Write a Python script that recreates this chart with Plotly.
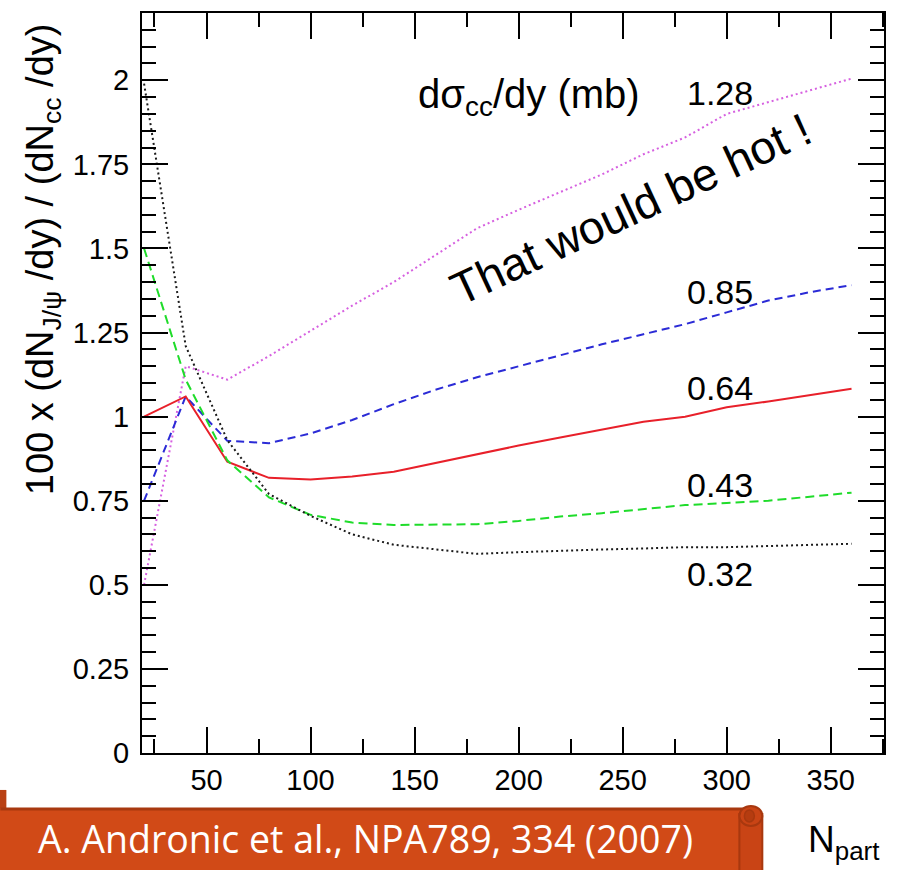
import plotly.graph_objects as go

# ---------------------------------------------------------------------------
# Data: J/psi yield per charm pair vs. number of participants, for several
# open-charm cross sections dsigma_cc/dy (mb)
# ---------------------------------------------------------------------------
n_part = [20, 40, 60, 80, 100, 120, 140, 160, 180, 200,
          220, 240, 260, 280, 300, 320, 340, 360]

ratio_sigma_128 = [0.50, 1.15, 1.11, 1.18, 1.255, 1.33, 1.40, 1.48, 1.56, 1.615,
                   1.668, 1.72, 1.78, 1.83, 1.90, 1.935, 1.97, 2.005]
ratio_sigma_085 = [0.75, 1.06, 0.928, 0.921, 0.95, 0.99, 1.037, 1.08, 1.117, 1.15,
                   1.183, 1.215, 1.245, 1.275, 1.31, 1.345, 1.37, 1.391]
ratio_sigma_064 = [1.00, 1.06, 0.866, 0.818, 0.813, 0.822, 0.836, 0.862, 0.89, 0.914,
                   0.938, 0.962, 0.985, 1.00, 1.028, 1.045, 1.064, 1.083]
ratio_sigma_043 = [1.50, 1.11, 0.87, 0.76, 0.708, 0.685, 0.678, 0.678, 0.68, 0.69,
                   0.703, 0.713, 0.725, 0.737, 0.743, 0.75, 0.762, 0.774]
ratio_sigma_032 = [1.99, 1.21, 0.93, 0.77, 0.705, 0.65, 0.619, 0.605, 0.592, 0.597,
                   0.602, 0.605, 0.608, 0.612, 0.612, 0.615, 0.62, 0.622]

sigma_labels = ["1.28", "0.85", "0.64", "0.43", "0.32"]

x_tick_vals = [50, 100, 150, 200, 250, 300, 350]
y_tick_vals = [0, 0.25, 0.5, 0.75, 1, 1.25, 1.5, 1.75, 2]
y_tick_text = ["0", "0.25", "0.5", "0.75", "1", "1.25", "1.5", "1.75", "2"]

# ---------------------------------------------------------------------------
# Page geometry (pixels)
# ---------------------------------------------------------------------------
W, H = 897, 870
L, R, T, B = 142, 886, 12, 753


def px_x(px):
    return (px - L) / (R - L)


def px_y(py):
    return (B - py) / (B - T)


FONT = "Liberation Sans, Arial, Helvetica, sans-serif"

series = [
    (ratio_sigma_128, "#d660e0", "2px,3px"),
    (ratio_sigma_085, "#2b2bd6", "8px,5px"),
    (ratio_sigma_064, "#e8202a", "solid"),
    (ratio_sigma_043, "#1fdc2a", "9px,5px"),
    (ratio_sigma_032, "#1a1a1a", "2px,3px"),
]

fig = go.Figure()
for (values, color, dash), name in zip(series, sigma_labels):
    fig.add_trace(go.Scatter(
        x=n_part, y=values, mode="lines", name=name,
        line=dict(color=color, width=2, dash=dash),
        showlegend=False, hoverinfo="x+y",
    ))

axis_common = dict(
    showline=True, linecolor="black", linewidth=2, mirror="ticks",
    ticks="inside", ticklen=26, tickwidth=2, tickcolor="black",
    showgrid=False, zeroline=False,
    tickfont=dict(family=FONT, size=29, color="black"),
)

fig.update_xaxes(
    range=[19, 375.6], tickvals=x_tick_vals,
    minor=dict(ticks="inside", ticklen=14, tickwidth=2, tickcolor="black",
               tick0=0, dtick=25, showgrid=False),
    ticklabelstandoff=0,
    **axis_common,
)
fig.update_yaxes(
    range=[0, 2.2], tickvals=y_tick_vals, ticktext=y_tick_text,
    minor=dict(ticks="inside", ticklen=14, tickwidth=2, tickcolor="black",
               tick0=0, dtick=0.05, showgrid=False),
    ticklabelstandoff=5,
    **axis_common,
)

annotations = []

# Y-axis title, aligned to the top of the frame
annotations.append(dict(
    xref="paper", yref="paper", x=px_x(43), y=px_y(20),
    xanchor="center", yanchor="top", textangle=-90, showarrow=False,
    text="100 x (dN<sub>J/ψ</sub> /dy) / (dN<sub>cc</sub> /dy)",
    font=dict(family=FONT, size=38, color="black"),
))

# X-axis title
annotations.append(dict(
    xref="paper", yref="paper", x=px_x(808), y=px_y(842),
    xanchor="left", yanchor="middle", showarrow=False,
    text="N<sub>part</sub>",
    font=dict(family=FONT, size=37, color="black"),
))

# Legend header
annotations.append(dict(
    xref="paper", yref="paper", x=px_x(417), y=px_y(96),
    xanchor="left", yanchor="middle", showarrow=False,
    text="dσ<sub>cc</sub>/dy (mb)",
    font=dict(family=FONT, size=40, color="black"),
))

# Cross-section labels next to each curve
label_y_px = [92, 291, 388, 485, 574]
for lab, ypx in zip(sigma_labels, label_y_px):
    annotations.append(dict(
        xref="paper", yref="paper", x=px_x(722), y=px_y(ypx),
        xanchor="center", yanchor="middle", showarrow=False,
        text=lab, font=dict(family=FONT, size=34, color="black"),
    ))

# Slanted comment
annotations.append(dict(
    xref="paper", yref="paper", x=px_x(632), y=px_y(208),
    xanchor="center", yanchor="middle", showarrow=False, textangle=-25,
    text="That would be hot !",
    font=dict(family=FONT, size=46, color="black"),
))

# Reference banner text
annotations.append(dict(
    xref="paper", yref="paper", x=px_x(366), y=px_y(839),
    xanchor="center", yanchor="middle", showarrow=False,
    text="A. Andronic et al., NPA789, 334 (2007)",
    font=dict(family="Open Sans, Noto Sans, sans-serif", size=37.5, color="white"),
))

BANNER = "#d14a17"
BANNER_DARK = "#a8380f"

shapes = [
    # small curl on the left
    dict(type="rect", xref="paper", yref="paper",
         x0=px_x(-6), x1=px_x(6), y0=px_y(815), y1=px_y(790),
         fillcolor="#b94013", line=dict(width=0), layer="above"),
    # banner body
    dict(type="rect", xref="paper", yref="paper",
         x0=px_x(-5), x1=px_x(758), y0=px_y(875), y1=px_y(808),
         fillcolor=BANNER, line=dict(width=0), layer="above"),
    # top rim of banner
    dict(type="line", xref="paper", yref="paper",
         x0=px_x(0), x1=px_x(752), y0=px_y(809), y1=px_y(809),
         line=dict(color=BANNER_DARK, width=3), layer="above"),
    # scroll roll on the right
    dict(type="rect", xref="paper", yref="paper",
         x0=px_x(741), x1=px_x(764), y0=px_y(875), y1=px_y(814),
         fillcolor="#c94415", line=dict(color=BANNER_DARK, width=2), layer="above"),
    dict(type="circle", xref="paper", yref="paper",
         x0=px_x(741), x1=px_x(764), y0=px_y(826), y1=px_y(806),
         fillcolor="#c94415", line=dict(color=BANNER_DARK, width=2), layer="above"),
    dict(type="circle", xref="paper", yref="paper",
         x0=px_x(746), x1=px_x(756), y0=px_y(822), y1=px_y(810),
         fillcolor="#b53c10", line=dict(color=BANNER_DARK, width=1.5), layer="above"),
]

fig.update_layout(
    width=W, height=H,
    margin=dict(l=L, r=W - R, t=T, b=H - B, pad=0),
    paper_bgcolor="white", plot_bgcolor="white",
    annotations=annotations, shapes=shapes,
    showlegend=False,
)

fig.write_html("out.html")
